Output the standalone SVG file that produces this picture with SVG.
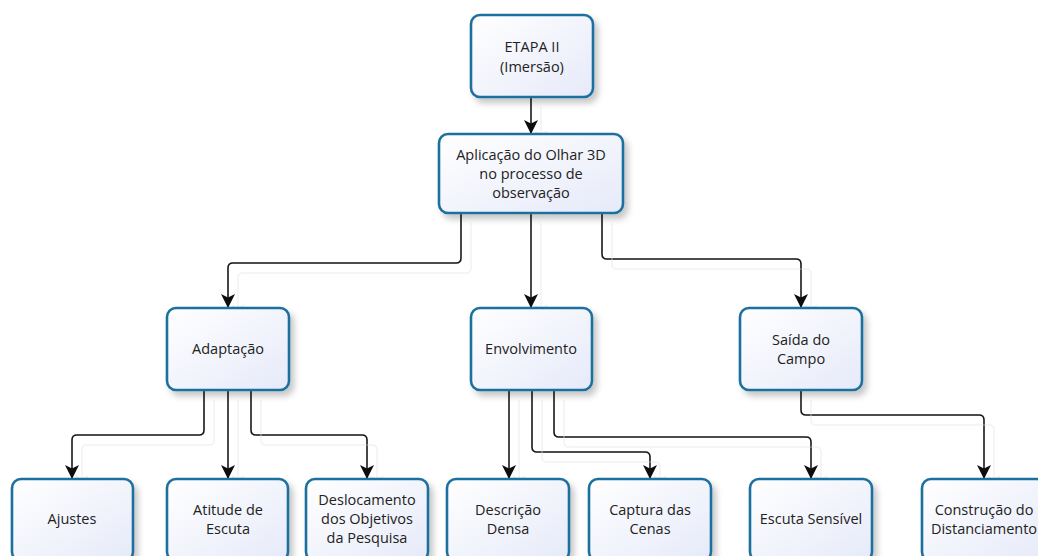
<svg xmlns="http://www.w3.org/2000/svg" width="1038" height="556" viewBox="0 0 1038 556">
<style>
.node rect{fill:url(#g);stroke:#1f6f9e;stroke-width:2.6;filter:url(#sh)}
.node text{font-family:"Open Sans","Liberation Sans",sans-serif;font-size:14.5px;fill:#222;text-anchor:middle}
.conn path{fill:none;stroke:#161616;stroke-width:1.6;marker-end:url(#ar)}
</style>
<defs>
<linearGradient id="g" x1="0" y1="0" x2="1" y2="1">
<stop offset="0" stop-color="#ffffff"/>
<stop offset="1" stop-color="#e6eaf9"/>
</linearGradient>
<filter id="sh" x="-20%" y="-20%" width="150%" height="150%">
<feDropShadow dx="4" dy="5" stdDeviation="3" flood-color="#000" flood-opacity="0.22"/>
</filter>
<filter id="cs" x="-10%" y="-10%" width="130%" height="130%">
<feOffset in="SourceAlpha" dx="10" dy="10" result="o"/>
<feFlood flood-color="#f2f2f2"/>
<feComposite in2="o" operator="in" result="s"/>
<feMerge><feMergeNode in="s"/><feMergeNode in="SourceGraphic"/></feMerge>
</filter>
<marker id="ar" viewBox="0 0 15 15" refX="14" refY="7.5" markerWidth="15" markerHeight="15" markerUnits="userSpaceOnUse" orient="auto">
<path d="M0,0.5 L14,7.5 L0,14.5 L3.5,7.5 Z" fill="#111"/>
</marker>
</defs>
<rect width="1038" height="556" fill="#fff"/>
<g id="connectors" class="conn" filter="url(#cs)">
<path d="M531,97 V134"/>
<path d="M461,213 V258 Q461,263 456,263 H233 Q228,263 228,268 V308"/>
<path d="M531,213 V308"/>
<path d="M602,213 V254 Q602,259 607,259 H796 Q801,259 801,264 V308"/>
<path d="M204,390 V430 Q204,435 199,435 H77 Q72,435 72,440 V479"/>
<path d="M228,390 V479"/>
<path d="M251,390 V430 Q251,435 256,435 H362 Q367,435 367,440 V479"/>
<path d="M509,390 V479"/>
<path d="M532,390 V447 Q532,452 537,452 H645 Q650,452 650,457 V479"/>
<path d="M554,390 V432 Q554,437 559,437 H806 Q811,437 811,442 V479"/>
<path d="M801,390 V410 Q801,415 806,415 H979 Q984,415 984,420 V479"/>
</g>
<g id="n-etapa" class="node"><rect x="471" y="15" width="122" height="82" rx="9"/><text x="532" y="52">ETAPA II</text><text x="532" y="72">(Imersão)</text></g>
<g id="n-aplicacao" class="node"><rect x="439" y="134" width="184" height="79" rx="9"/><text x="531" y="160">Aplicação do Olhar 3D</text><text x="531" y="179">no processo de</text><text x="531" y="198">observação</text></g>
<g id="n-adaptacao" class="node"><rect x="167" y="308" width="122" height="82" rx="9"/><text x="228" y="354">Adaptação</text></g>
<g id="n-envolvimento" class="node"><rect x="471" y="308" width="121" height="82" rx="9"/><text x="531" y="354">Envolvimento</text></g>
<g id="n-saida" class="node"><rect x="740" y="308" width="122" height="82" rx="9"/><text x="801" y="345">Saída do</text><text x="801" y="364">Campo</text></g>
<g id="n-ajustes" class="node"><rect x="12" y="479" width="121" height="82" rx="9"/><text x="72" y="524">Ajustes</text></g>
<g id="n-atitude" class="node"><rect x="167" y="479" width="121" height="82" rx="9"/><text x="228" y="515">Atitude de</text><text x="228" y="534">Escuta</text></g>
<g id="n-deslocamento" class="node"><rect x="306" y="479" width="122" height="82" rx="9"/><text x="367" y="505">Deslocamento</text><text x="367" y="524">dos Objetivos</text><text x="367" y="543">da Pesquisa</text></g>
<g id="n-descricao" class="node"><rect x="447" y="479" width="122" height="82" rx="9"/><text x="508" y="515">Descrição</text><text x="508" y="534">Densa</text></g>
<g id="n-captura" class="node"><rect x="589" y="479" width="122" height="82" rx="9"/><text x="650" y="515">Captura das</text><text x="650" y="534">Cenas</text></g>
<g id="n-escuta" class="node"><rect x="750" y="479" width="122" height="82" rx="9"/><text x="811" y="524">Escuta Sensível</text></g>
<g id="n-construcao" class="node"><rect x="922" y="479" width="124" height="82" rx="9"/><text x="984" y="515">Construção do</text><text x="984" y="534">Distanciamento</text></g>
</svg>
